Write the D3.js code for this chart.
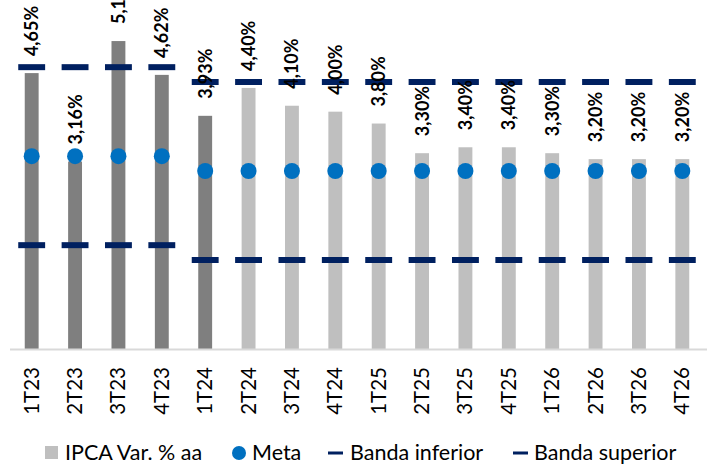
<!DOCTYPE html>
<html>
<head>
<meta charset="utf-8">
<script src="https://cdn.jsdelivr.net/npm/d3@7"></script>
<style>
  html, body { margin: 0; padding: 0; background: #ffffff; }
  svg { display: block; font-family: Lato, "Open Sans", sans-serif; }
</style>
</head>
<body>
<svg id="chart" width="711" height="465"></svg>
<script>
// Trimestres
const categories = ["1T23","2T23","3T23","4T23","1T24","2T24","3T24","4T24",
                    "1T25","2T25","3T25","4T25","1T26","2T26","3T26","4T26"];
// IPCA acumulado em 12 meses (% a.a.)
const ipca = [4.65, 3.16, 5.19, 4.62, 3.93, 4.40, 4.10, 4.00,
              3.80, 3.30, 3.40, 3.40, 3.30, 3.20, 3.20, 3.20];
// Realizado x projeção
const tipo = ["R","R","R","R","R","P","P","P","P","P","P","P","P","P","P","P"];
// Meta de inflação e bandas de tolerância
const meta = [3.25, 3.25, 3.25, 3.25, 3.0, 3.0, 3.0, 3.0,
              3.0, 3.0, 3.0, 3.0, 3.0, 3.0, 3.0, 3.0];
const bandaInferior = [1.75, 1.75, 1.75, 1.75, 1.5, 1.5, 1.5, 1.5,
                       1.5, 1.5, 1.5, 1.5, 1.5, 1.5, 1.5, 1.5];
const bandaSuperior = [4.75, 4.75, 4.75, 4.75, 4.5, 4.5, 4.5, 4.5,
                       4.5, 4.5, 4.5, 4.5, 4.5, 4.5, 4.5, 4.5];
// Legenda
const legendItems = ["IPCA Var. % aa", "Meta", "Banda inferior", "Banda superior"];

const svg = d3.select("#chart");

const x = d3.scaleBand().domain(categories).range([10, 704]).padding(0);
const y = d3.scaleLinear().domain([0, 6]).range([349, -7]);

const bw = x.bandwidth();
const cx = d => x(d) + bw / 2;
const fmt = v => d3.format(".2f")(v).replace(".", ",") + "%";

const barColor = { R: "#7f7f7f", P: "#bfbfbf" };
const navy = "#002060";
const blue = "#0070c0";

const rows = categories.map((c, i) => ({
  c, v: ipca[i], t: tipo[i], meta: meta[i], lo: bandaInferior[i], hi: bandaSuperior[i]
}));

// Barras
const barW = bw * 0.32;
svg.append("g").selectAll("rect").data(rows).join("rect")
  .attr("x", d => cx(d.c) - barW / 2)
  .attr("width", barW)
  .attr("y", d => y(d.v))
  .attr("height", d => y(0) - y(d.v))
  .attr("fill", d => barColor[d.t]);

// Eixo horizontal
const xAxis = svg.append("g")
  .attr("transform", `translate(0,${y(0)})`)
  .call(d3.axisBottom(x).tickSize(0).tickPadding(0));
xAxis.select(".domain").attr("stroke", "#d9d9d9").attr("stroke-width", 2)
  .attr("d", "M10,0.5H707");
xAxis.selectAll(".tick text")
  .attr("font-family", "Lato, sans-serif")
  .attr("font-size", 20.5)
  .attr("fill", "#000")
  .attr("text-anchor", "end")
  .attr("transform", "translate(7,18) rotate(-90)")
  .attr("x", 0).attr("y", 0).attr("dy", 0);

// Bandas
const markW = bw * 0.62;
const band = (key) => svg.append("g").selectAll("rect").data(rows).join("rect")
  .attr("x", d => cx(d.c) - markW / 2)
  .attr("width", markW)
  .attr("y", d => y(d[key]) - 3)
  .attr("height", 6)
  .attr("fill", navy);
band("lo");
band("hi");

// Meta
svg.append("g").selectAll("circle").data(rows).join("circle")
  .attr("cx", d => cx(d.c))
  .attr("cy", d => y(d.meta))
  .attr("r", 8)
  .attr("fill", blue);

// Rótulos de dados
svg.append("g").selectAll("text").data(rows).join("text")
  .attr("transform", d => `translate(${cx(d.c) + 6.5},${y(d.v) - 17}) rotate(-90)`)
  .attr("font-size", 18)
  .attr("font-weight", "bold")
  .attr("fill", "#000")
  .text(d => fmt(d.v));

// Legenda
const lg = svg.append("g").attr("font-size", 21.5).attr("fill", "#000");
lg.append("rect").attr("x", 45).attr("y", 446).attr("width", 13).attr("height", 13).attr("fill", "#bfbfbf");
lg.append("text").attr("x", 65).attr("y", 460).text(legendItems[0]);
lg.append("circle").attr("cx", 239).attr("cy", 453).attr("r", 7).attr("fill", blue);
lg.append("text").attr("x", 252).attr("y", 460).text(legendItems[1]);
lg.append("rect").attr("x", 328).attr("y", 451.5).attr("width", 15).attr("height", 3).attr("fill", navy);
lg.append("text").attr("x", 350).attr("y", 460).text(legendItems[2]);
lg.append("rect").attr("x", 513).attr("y", 451.5).attr("width", 15).attr("height", 3).attr("fill", navy);
lg.append("text").attr("x", 534).attr("y", 460).text(legendItems[3]);
</script>
</body>
</html>
